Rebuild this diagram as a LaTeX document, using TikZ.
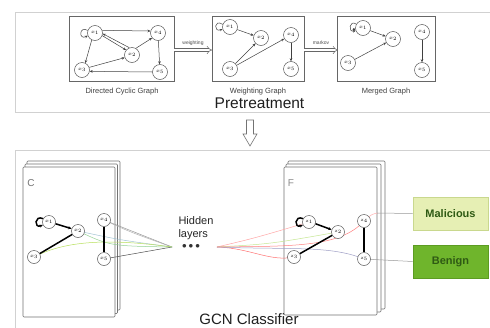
\documentclass[tikz,border=0pt]{standalone}
\usepackage{fontspec}
\setmainfont{Liberation Sans}
\usetikzlibrary{arrows.meta}
\definecolor{malfill}{HTML}{E6EFB4}
\definecolor{malborder}{HTML}{C9D88E}
\definecolor{bengfill}{HTML}{6FB52C}
\definecolor{bengborder}{HTML}{5C9C22}
\definecolor{labgreen}{HTML}{2F5A14}
\tikzset{
  gnode/.style={circle, draw=black!65, fill=white, line width=0.5pt, minimum size=15pt, inner sep=0pt, font=\fontsize{5}{6}\selectfont},
  bnode/.style={gnode, minimum size=13pt},
  gbox/.style={draw=black!60, line width=0.7pt},
  gedge/.style={draw=black!75, line width=0.5pt, -{Stealth[length=3pt,width=2.6pt]}},
  heavy/.style={draw=black, line width=1.5pt},
  caption/.style={font=\fontsize{7.5}{8}\selectfont, text=black!75},
  small/.style={font=\fontsize{5}{6}\selectfont, text=black!70},
  panel/.style={draw=black!18, line width=1pt},
  card/.style={draw=black!55, fill=white, line width=0.6pt, rounded corners=1pt},
  dblarrow/.style={draw=black!60, double=white, double distance=2.2pt, line width=0.5pt, -{Implies[length=4pt]}},
  title/.style={font=\fontsize{15.5}{17}\selectfont, text=black!88},
  cls/.style={minimum width=75pt, minimum height=33pt, line width=0.8pt, font=\bfseries\fontsize{11}{12}\selectfont, text=labgreen},
  wire/.style={line width=0.5pt},
}
\begin{document}
\begin{tikzpicture}[x=1pt,y=-1pt]
\clip (0,0) rectangle (490,327);
\fill[white] (0,0) rectangle (490,327);
% panels
\draw[panel] (15,12) rectangle (500,112);
\draw[panel] (15,150) rectangle (500,340);
% ---------- top: directed cyclic graph
\draw[gbox] (69,16) rectangle (174,81);
\node[gnode] (a1) at (95,33) {$x_1$};
\node[gnode] (a4) at (158,33) {$x_4$};
\node[gnode] (a2) at (132,55) {$x_2$};
\node[gnode] (a3) at (82,70) {$x_3$};
\node[gnode] (a5) at (160,72) {$x_5$};
\draw[gedge] (a1.160) .. controls +(-9,-5) and +(-9,5) .. (a1.200);
\draw[gedge] (a1.20) -- (a4.165);
\draw[gedge] (a1.-20) -- (a2.140);
\draw[gedge] (a2.110) -- (a1.-5);
\draw[gedge] (a2.60) -- (a4.220);
\draw[gedge] (a1.245) -- (a3.65);
\draw[gedge] (a3.20) -- (a2.200);
\draw[gedge] (a4) -- (a5);
\draw[gedge] (a5.180) -- (a3.-10);
\node[caption] (c1) at (122,92) {Directed Cyclic Graph};
% ---------- weighting graph
\draw[gbox] (212,16) rectangle (304,81);
\node[gnode] (b1) at (230,27) {$x_1$};
\node[gnode] (b2) at (261,38) {$x_2$};
\node[gnode] (b3) at (230,69) {$x_3$};
\node[gnode] (b4) at (291,35) {$x_4$};
\node[gnode] (b5) at (291,69) {$x_5$};
\draw[gedge] (b1.160) .. controls +(-9,-6) and +(-9,4) .. (b1.195);
\draw[gedge] (b1) -- (b2);
\draw[gedge] (b3) -- (b2);
\draw[gedge] (b3) -- (b4);
\draw[gedge] (b4) -- (b5);
\node[caption] (c2) at (258,92) {Weighting Graph};
% ---------- merged graph
\draw[gbox] (337,16) rectangle (435,81);
\node[gnode] (m1) at (363,28) {$x_1$};
\node[gnode] (m2) at (393,39) {$x_2$};
\node[gnode] (m3) at (348,63) {$x_3$};
\node[gnode] (m4) at (422,32) {$x_4$};
\node[gnode] (m5) at (422,70) {$x_5$};
\draw[gedge] (m1.150) .. controls +(-7,-5) and +(-8,2) .. (m1.200);
\fill[black!75] (m1.190) ++(-1.5,0) circle (1.3);
\draw[gedge] (m1) -- (m2);
\draw[gedge] (m3) -- (m2);
\draw[gedge] (m4) -- (m5);
\node[caption] (c3) at (386,92) {Merged Graph};
% ---------- arrows between
\draw[dblarrow] (174,50) -- (212,50);
\node[small] (lw) at (193,43) {weighting};
\draw[dblarrow] (304,50) -- (338,50);
\node[small] (lm) at (321,43) {markov};
\node[title, anchor=base] (pre) at (259.5,108) {Pretreatment};
% down arrow
\draw[draw=black!55, fill=white, line width=0.6pt] (246.5,120) -- (253.5,120) -- (253.5,134) -- (257,134) -- (250,146) -- (243,134) -- (246.5,134) -- cycle;
% ---------- C stack
\draw[card] (27,161) rectangle (120,310);
\draw[card] (25,164) rectangle (117.5,313.5);
\draw[card] (23,167) rectangle (115,317);
\node[font=\fontsize{10}{11}\selectfont, text=black!55] (lc) at (31,183) {C};
% ---------- F stack
\draw[card] (288,161) rectangle (385,309);
\draw[card] (286,164) rectangle (381,312);
\draw[card] (284,167) rectangle (377,315);
\node[font=\fontsize{10}{11}\selectfont, text=black!45] (lf) at (291,183) {F};
% hidden layer points
\coordinate (h1) at (172,247);
\coordinate (h2) at (217,247);
% C graph nodes (positions)
\coordinate (px1) at (49,222);
\coordinate (px2) at (78,231);
\coordinate (px3) at (34,257);
\coordinate (px4) at (104,220);
\coordinate (px5) at (104,259);
% F graph positions
\coordinate (pz1) at (309,222);
\coordinate (pz2) at (338,232);
\coordinate (pz3) at (294,257);
\coordinate (pz4) at (364,221);
\coordinate (pz5) at (364,259);
% colored wires C -> hidden
\draw[wire, draw=black!40] (px4) -- (h1);
\draw[wire, draw=black!30] (px4) .. controls (130,232) .. (h1);
\draw[wire, draw=black!70] (px5) -- (h1);
\draw[wire, draw=cyan!40!gray!60] (px2) .. controls (120,240) .. (h1);
\draw[wire, draw=green!40!gray!60] (px2) .. controls (110,246) .. (h1);
\draw[wire, draw=yellow!60!green!70] (px3) .. controls (70,238) and (120,240) .. (h1);
% hidden -> F
\draw[wire, draw=red!35] (h2) .. controls (255,238) .. (pz1);
\draw[wire, draw=yellow!50!green!45] (h2) .. controls (270,244) .. (pz2);
\draw[wire, draw=red!50] (h2) .. controls (290,246) and (340,248) .. (pz4);
\draw[wire, draw=red!55] (h2) .. controls (250,248) and (270,262) .. (pz3);
\draw[wire, draw=blue!25!gray!60] (h2) .. controls (290,250) and (330,245) .. (pz5);
\draw[wire, draw=red!30] (pz4) .. controls (372,214) .. (378,213);
% output lines
\node[cls, fill=malfill, draw=malborder] (mal) at (450.5,213.5) {Malicious};
\node[cls, fill=bengfill, draw=bengborder] (ben) at (450.5,261.5) {Benign};
\draw[wire, draw=black!40] (377,213) -- (mal.west);
\draw[wire, draw=black!40] (pz5) -- (ben.west);
% C graph nodes
\node[bnode] (x1) at (px1) {$x_1$};
\node[bnode] (x2) at (px2) {$x_2$};
\node[bnode] (x3) at (px3) {$x_3$};
\node[bnode] (x4) at (px4) {$x_4$};
\node[bnode] (x5) at (px5) {$x_5$};
\draw[heavy, -{Stealth[length=3.5pt,width=3pt]}] (x1.150) .. controls +(-9,-4) and +(-9,4) .. (x1.205);
\draw[heavy, -{Stealth[length=3.5pt,width=3pt]}] (x1.-15) -- (x2.160);
\draw[heavy] (x2) -- (x3);
\draw[heavy] (x4) -- (x5);
% F graph nodes
\node[bnode] (z1) at (pz1) {$z_1$};
\node[bnode] (z2) at (pz2) {$z_2$};
\node[bnode] (z3) at (pz3) {$z_3$};
\node[bnode] (z4) at (pz4) {$z_4$};
\node[bnode] (z5) at (pz5) {$z_5$};
\draw[heavy, -{Stealth[length=3.5pt,width=3pt]}] (z1.150) .. controls +(-9,-4) and +(-9,4) .. (z1.205);
\draw[heavy, -{Stealth[length=3.5pt,width=3pt]}] (z1.-15) -- (z2.160);
\draw[heavy] (z2) -- (z3);
\draw[heavy] (z4) -- (z5);
% hidden layers text
\node[font=\fontsize{11}{12.5}\selectfont, text=black!85, align=left, anchor=north west] (hid) at (175,213) {Hidden\\layers};
\node[font=\fontsize{9}{10}\selectfont, text=black!80] (dots) at (191,246) {$\bullet\bullet\bullet$};
\node[title, font=\fontsize{15}{16}\selectfont, anchor=base] (gcn) at (249,324) {GCN Classifier};
\end{tikzpicture}
\end{document}
